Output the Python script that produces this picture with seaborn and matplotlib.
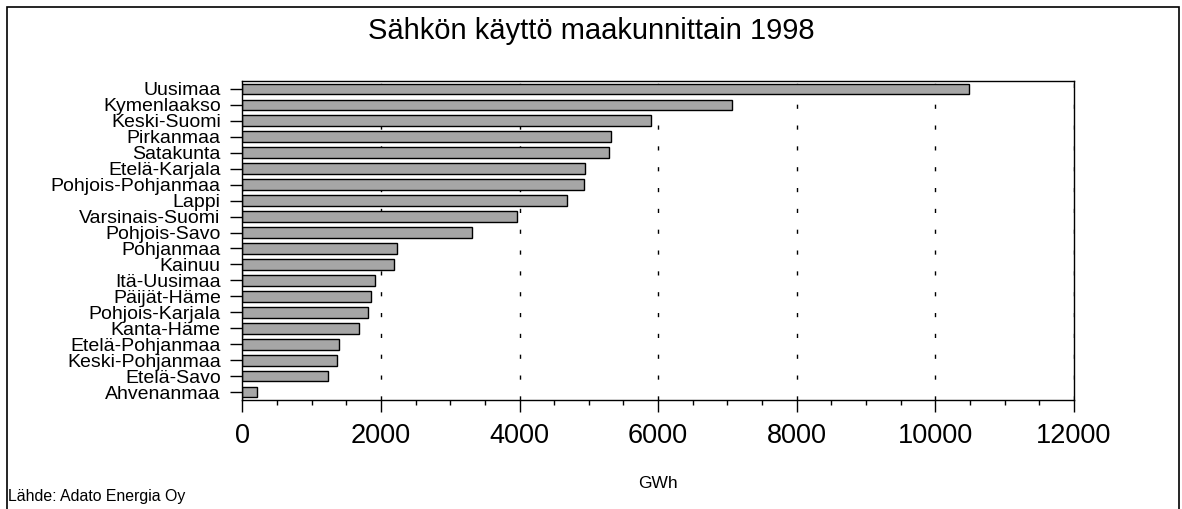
import matplotlib
matplotlib.use("Agg")
import matplotlib.pyplot as plt
from matplotlib.patches import Rectangle
from matplotlib.ticker import MultipleLocator
import pandas as pd
import seaborn as sns

# Data (GWh, 1998)
regions = ["Uusimaa", "Kymenlaakso", "Keski-Suomi", "Pirkanmaa", "Satakunta",
           "Etelä-Karjala", "Pohjois-Pohjanmaa", "Lappi", "Varsinais-Suomi",
           "Pohjois-Savo", "Pohjanmaa", "Kainuu", "Itä-Uusimaa", "Päijät-Häme",
           "Pohjois-Karjala", "Kanta-Häme", "Etelä-Pohjanmaa", "Keski-Pohjanmaa",
           "Etelä-Savo", "Ahvenanmaa"]
gwh = [10490, 7060, 5900, 5320, 5290,
       4950, 4930, 4680, 3960,
       3320, 2230, 2190, 1920, 1850,
       1820, 1680, 1400, 1370,
       1230, 205]
x_ticks = [0, 2000, 4000, 6000, 8000, 10000, 12000]

df = pd.DataFrame({"Maakunta": regions, "GWh": gwh})

sns.set_style("ticks")
plt.rcParams["font.family"] = ["Liberation Sans", "DejaVu Sans"]
plt.rcParams["text.color"] = "black"
plt.rcParams["xtick.labelcolor"] = "black"
plt.rcParams["ytick.labelcolor"] = "black"

W, H = 1182, 509
fig = plt.figure(figsize=(W / 100, H / 100), dpi=100)
ax = fig.add_axes([242.3 / W, 1 - 400 / H, (1074 - 242.3) / W, (400 - 81) / H])

sns.barplot(data=df, x="GWh", y="Maakunta", orient="h", ax=ax,
            color="#a6a6a6", edgecolor="black", linewidth=1.0, width=0.68,
            saturation=1)

ax.set_xlim(0, 12000)
ax.set_ylim(19.5, -0.5)
ax.set_xticks(x_ticks)
ax.xaxis.set_minor_locator(MultipleLocator(500))
ax.grid(axis="x", which="major", color="black", linewidth=1.0,
        linestyle=(0, (3, 12)))
ax.set_axisbelow(True)

ax.tick_params(axis="x", which="major", labelsize=19.5, length=8.5,
               width=1.0, color="black", labelcolor="black", pad=8,
               direction="out")
ax.tick_params(axis="x", which="minor", length=3.5, width=1.0,
               color="black", direction="out")
ax.tick_params(axis="y", labelsize=14, length=8.5, width=1.0,
               color="black", labelcolor="black", pad=7, direction="out")
for s in ax.spines.values():
    s.set_visible(True)
    s.set_color("black")
    s.set_linewidth(1.0)

ax.set_xlabel("")
ax.set_ylabel("")

fig.text(591 / W, 1 - 31 / H, "Sähkön käyttö maakunnittain 1998",
         ha="center", va="center", fontsize=21, color="black")
fig.text(658 / W, 1 - 483 / H, "GWh", ha="center", va="center",
         fontsize=12.5, color="black")
fig.text(8 / W, 1 - 497 / H, "Lähde: Adato Energia Oy", ha="left",
         va="center", fontsize=11.4, color="black")

# outer frame around the whole chart
fig.patches.append(Rectangle((7 / W, -0.1), (1179 - 7) / W, 1.1 - 7 / H,
                             transform=fig.transFigure, fill=False,
                             edgecolor="black", linewidth=1.2))

fig.savefig("out.png", dpi=100)
